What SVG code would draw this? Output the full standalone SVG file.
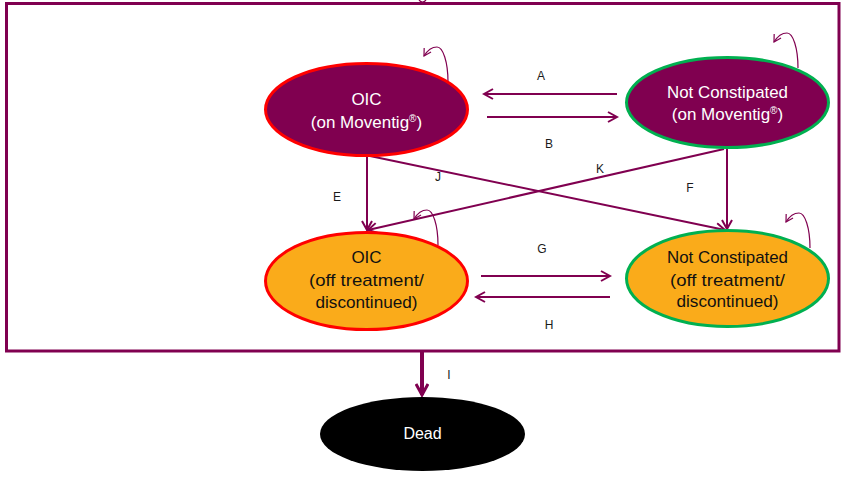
<svg xmlns="http://www.w3.org/2000/svg" width="848" height="477" viewBox="0 0 848 477">
<style>
.frame{fill:none;stroke:#800050;stroke-width:3}
.conn{fill:none;stroke:#800050;stroke-width:2}
.loop{fill:none;stroke:#800050;stroke-width:1.2}
.on{fill:#800050}
.off{fill:#FAAB1A}
.red{stroke:#FF0000;stroke-width:3}
.green{stroke:#00B050;stroke-width:3}
.t{font-family:"Liberation Sans",Arial,sans-serif;font-size:17px;text-anchor:middle}
.w{fill:#FFFFFF}
.k{fill:#111111}
.lbl{font-family:"Liberation Sans",Arial,sans-serif;font-size:12px;text-anchor:middle;fill:#1a1a1a}
.sup{font-size:10px}
</style>
<defs>
<marker id="arr" markerWidth="12" markerHeight="12" refX="10" refY="6" orient="auto" markerUnits="userSpaceOnUse">
<path d="M1,1 L10,6 L1,11" fill="none" stroke="#800050" stroke-width="2"/>
</marker>
<marker id="arrI" markerWidth="14" markerHeight="14" refX="12" refY="7" orient="auto" markerUnits="userSpaceOnUse">
<path d="M1,1 L12,7 L1,13" fill="none" stroke="#800050" stroke-width="3"/>
</marker>
<marker id="arrS" markerWidth="10" markerHeight="10" refX="8" refY="5" orient="auto" markerUnits="userSpaceOnUse">
<path d="M1,1 L8,5 L1,9" fill="none" stroke="#800050" stroke-width="1.2"/>
</marker>
<path id="loopShape" class="loop" d="M0,0 C0,-20 -5,-35 -11,-35 C-16,-35 -21,-31 -24,-26" marker-end="url(#arrS)"/>
</defs>

<rect class="frame" x="6.5" y="3.5" width="832.5" height="347.5"/>
<path class="loop" d="M419,0 Q422.5,4 426,0"/>

<g id="connectors">
<line class="conn" x1="617" y1="94" x2="484" y2="94" marker-end="url(#arr)"/>
<line class="conn" x1="487" y1="117" x2="617" y2="117" marker-end="url(#arr)"/>
<line class="conn" x1="367" y1="156" x2="367" y2="230" marker-end="url(#arr)"/>
<line class="conn" x1="370" y1="156" x2="725" y2="230" marker-end="url(#arr)"/>
<line class="conn" x1="724" y1="149" x2="368" y2="230" marker-end="url(#arr)"/>
<line class="conn" x1="727" y1="149" x2="727" y2="229" marker-end="url(#arr)"/>
<line class="conn" x1="481" y1="276" x2="610" y2="276" marker-end="url(#arr)"/>
<line class="conn" x1="610" y1="297" x2="476" y2="297" marker-end="url(#arr)"/>
<line x1="422" y1="352" x2="422" y2="395" fill="none" stroke="#800050" stroke-width="4" marker-end="url(#arrI)"/>
<use href="#loopShape" transform="translate(448,82)"/>
<use href="#loopShape" transform="translate(798,68)"/>
<use href="#loopShape" transform="translate(438,245)"/>
<use href="#loopShape" transform="translate(810,248)"/>
<text class="lbl" x="541" y="80">A</text>
<text class="lbl" x="549" y="148">B</text>
<text class="lbl" x="337" y="201">E</text>
<text class="lbl" x="438" y="181">J</text>
<text class="lbl" x="600" y="173">K</text>
<text class="lbl" x="690" y="192">F</text>
<text class="lbl" x="542" y="253">G</text>
<text class="lbl" x="549" y="329">H</text>
<text class="lbl" x="449" y="379">I</text>
</g>

<g id="oic-on">
<ellipse class="on red" cx="366.5" cy="109.5" rx="101" ry="46"/>
<text class="t w" x="366.5" y="105">OIC</text>
<text class="t w" x="366.5" y="128">(on Moventig<tspan class="sup" dy="-6">®</tspan><tspan dy="6">)</tspan></text>
</g>

<g id="nc-on">
<ellipse class="on green" cx="727.5" cy="102.5" rx="101" ry="45"/>
<text class="t w" x="727.5" y="98" textLength="121" lengthAdjust="spacingAndGlyphs">Not Constipated</text>
<text class="t w" x="727.5" y="120">(on Moventig<tspan class="sup" dy="-6">®</tspan><tspan dy="6">)</tspan></text>
</g>

<g id="oic-off">
<ellipse class="off red" cx="366.5" cy="281" rx="101" ry="48.5"/>
<text class="t k" x="366.5" y="263">OIC</text>
<text class="t k" x="366.5" y="286" textLength="115" lengthAdjust="spacingAndGlyphs">(off treatment/</text>
<text class="t k" x="366.5" y="308" textLength="102" lengthAdjust="spacingAndGlyphs">discontinued)</text>
</g>

<g id="nc-off">
<ellipse class="off green" cx="727.5" cy="278.5" rx="101" ry="48"/>
<text class="t k" x="727.5" y="263" textLength="121" lengthAdjust="spacingAndGlyphs">Not Constipated</text>
<text class="t k" x="727.5" y="286" textLength="115" lengthAdjust="spacingAndGlyphs">(off treatment/</text>
<text class="t k" x="727.5" y="307" textLength="102" lengthAdjust="spacingAndGlyphs">discontinued)</text>
</g>

<g id="dead">
<ellipse cx="422.5" cy="434" rx="102.5" ry="37" fill="#000000"/>
<text class="t w" x="422.5" y="439" style="font-size:16px">Dead</text>
</g>
</svg>
